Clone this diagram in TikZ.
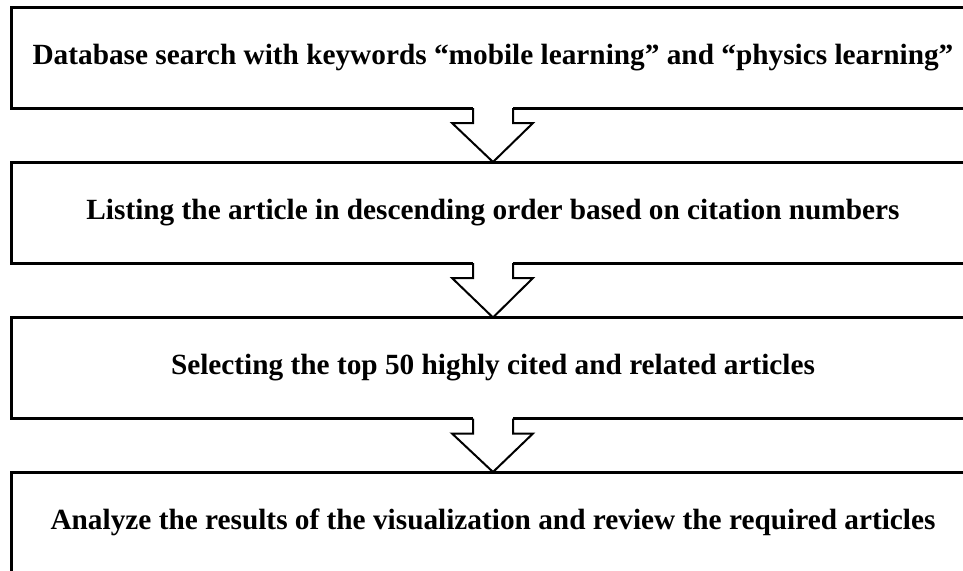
\documentclass[tikz,border=0pt]{standalone}
\usepackage{fontspec}
\setmainfont{Liberation Serif}
\usetikzlibrary{calc}
\begin{document}
\begin{tikzpicture}[x=1pt,y=-1pt,
  stagebox/.style={draw=black,line width=3pt,rectangle,minimum width=964pt,minimum height=101pt,inner sep=0pt,outer sep=0pt,
    font=\fontsize{29.3}{35}\selectfont\bfseries},
  arrowline/.style={draw=black,line width=2pt,line join=miter}]
\useasboundingbox (0,0) rectangle (963,570);
\clip (0,0) rectangle (963,570);
\node[stagebox] (b1) at (493,57.5) {Database search with keywords “mobile learning” and “physics learning”};
\node[stagebox] (b2) at (493,212.5) {Listing the article in descending order based on citation numbers};
\node[stagebox] (b3) at (493,368) {Selecting the top 50 highly cited and related articles};
\node[stagebox] (b4) at (493,522.5) {Analyze the results of the visualization and review the required articles};
\foreach \a/\b in {b1/b2,b2/b3,b3/b4}{
  \fill[white] ($(\a.south)+(-20,-3)$) rectangle ($(\a.south)+(20,15)$);
  \draw[arrowline] ($(\a.south)+(-20,0)$) -- ($(\a.south)+(-20,15)$) -- ($(\a.south)+(-41,15)$)
     -- (\b.north) -- ($(\a.south)+(40,15)$) -- ($(\a.south)+(20,15)$) -- ($(\a.south)+(20,0)$);
}
\end{tikzpicture}
\end{document}
